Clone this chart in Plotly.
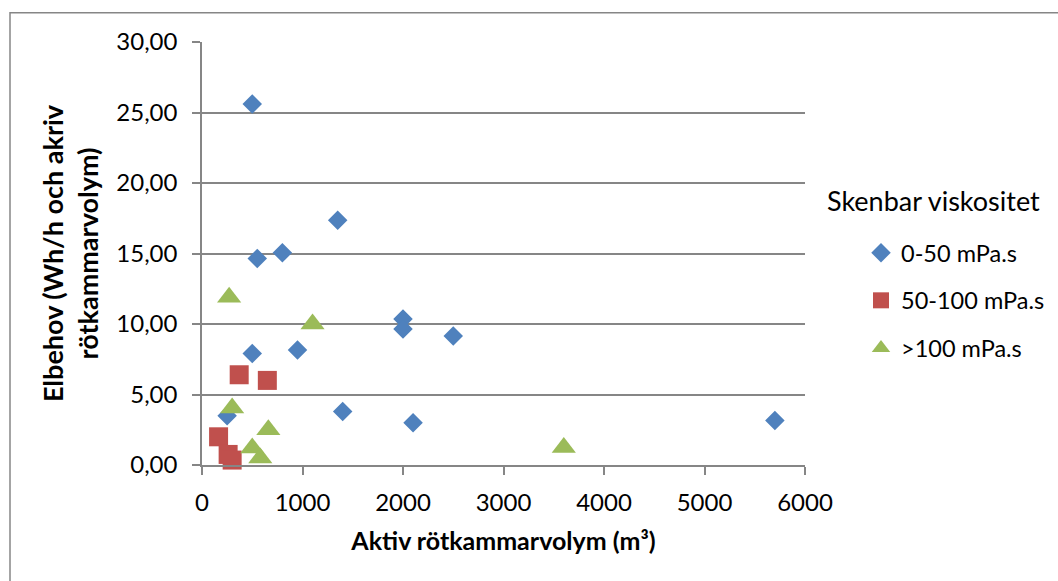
import plotly.graph_objects as go

# Aktiv rötkammarvolym (m³) and elbehov per viskositetsklass
vol_0_50 = [500, 1350, 550, 800, 2000, 2000, 2500, 500, 950, 1400, 250, 2100, 5700]
el_0_50 = [25.6, 17.35, 14.65, 15.05, 10.35, 9.65, 9.15, 7.9, 8.15, 3.8, 3.5, 3.0, 3.15]

vol_50_100 = [370, 650, 165, 260, 300]
el_50_100 = [6.4, 6.0, 2.0, 0.75, 0.35]

vol_100 = [270, 1100, 300, 660, 500, 580, 3600]
el_100 = [11.9, 10.0, 4.05, 2.5, 1.2, 0.5, 1.25]

series_names = ["0-50 mPa.s", "50-100 mPa.s", ">100 mPa.s"]

y_ticks = [0, 5, 10, 15, 20, 25, 30]
x_ticks = [0, 1000, 2000, 3000, 4000, 5000, 6000]

FONT = "Lato"
GRID = "#868686"

fig = go.Figure()
fig.add_trace(go.Scatter(
    x=vol_0_50, y=el_0_50, mode="markers", name=series_names[0], legendgroup="a",
    marker=dict(symbol="diamond", size=15, color="#4F81BD", line=dict(width=0)),
    cliponaxis=False))
fig.add_trace(go.Scatter(
    x=vol_50_100, y=el_50_100, mode="markers", name=series_names[1], legendgroup="b",
    marker=dict(symbol="square", size=19, color="#C0504D", line=dict(width=0)),
    cliponaxis=False))
fig.add_trace(go.Scatter(
    x=vol_100, y=el_100, mode="markers", name=series_names[2], legendgroup="c",
    marker=dict(symbol="triangle-up", size=21, color="#9BBB59", line=dict(width=0)),
    cliponaxis=False))

L, R, T, B = 202, 253, 42, 116
W, H = 1058, 581
pw, ph = W - L - R, H - T - B

fig.update_layout(
    width=W, height=H,
    margin=dict(l=L, r=R, t=T, b=B, pad=0, autoexpand=False),
    paper_bgcolor="white", plot_bgcolor="white",
    font=dict(family=FONT, size=24, color="black"),
    separators=", ",
    showlegend=True,
    legend=dict(
        x=(881 - 20 - L) / pw, xanchor="left",
        y=(H - B - 231) / ph, yanchor="top",
        traceorder="grouped", tracegroupgap=14,
        font=dict(family=FONT, size=23.5, color="black"),
        bgcolor="rgba(0,0,0,0)", borderwidth=0,
    ),
    xaxis=dict(
        range=[0, 6000], tickvals=x_ticks, tickformat="d",
        showgrid=False, zeroline=False,
        showline=True, linecolor=GRID, linewidth=1.5,
        ticks="outside", ticklen=8, tickwidth=1.5, tickcolor=GRID,
        ticklabelstandoff=7,
        tickfont=dict(family=FONT, size=24, color="black"),
        title=dict(text="<b>Aktiv rötkammarvolym (m³)</b>", standoff=18,
                   font=dict(family=FONT, size=25, color="black")),
    ),
    yaxis=dict(
        range=[0, 30], tickvals=y_ticks, tickformat=".2f",
        showgrid=True, gridcolor=GRID, gridwidth=1.5,
        zeroline=False,
        showline=True, linecolor=GRID, linewidth=1.5,
        ticks="outside", ticklen=8, tickwidth=1.5, tickcolor=GRID,
        ticklabelstandoff=10,
        tickfont=dict(family=FONT, size=24, color="black"),
        title=dict(text="<b>Elbehov (Wh/h och akriv<br>rötkammarvolym)</b>", standoff=10,
                   font=dict(family=FONT, size=27, color="black")),
    ),
    annotations=[dict(
        text="Skenbar viskositet", xref="paper", yref="paper",
        x=(825 - L) / pw, xanchor="left",
        y=(H - B - 200) / ph, yanchor="middle",
        showarrow=False, font=dict(family=FONT, size=27, color="black"),
    )],
    shapes=[dict(
        type="rect", xref="paper", yref="paper",
        x0=(10 - L) / pw, x1=1.6, y0=-0.5, y1=1 + (T - 12.7) / ph,
        line=dict(color=GRID, width=1.5), fillcolor="rgba(0,0,0,0)", layer="below",
    )],
)

fig.write_html("out.html")
